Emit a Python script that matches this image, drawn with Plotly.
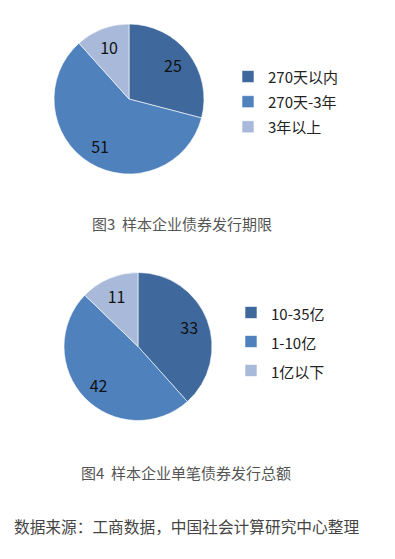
import plotly.graph_objects as go

# Figure 3: term of bonds
cats1 = ["270天以内", "270天-3年", "3年以上"]
vals1 = [25, 51, 10]
title1 = "图3  样本企业债券发行期限"

# Figure 4: single bond issue size
cats2 = ["10-35亿", "1-10亿", "1亿以下"]
vals2 = [33, 42, 11]
title2 = "图4  样本企业单笔债券发行总额"

source = "数据来源：工商数据，中国社会计算研究中心整理"

colors = ["#3F699D", "#4F81BD", "#A8B9D9"]
FONT = "Noto Sans CJK SC, Noto Sans, sans-serif"


def lab(c):
    return f"<span style='font-size:15px'>{c}</span>"


def add_pie(fig, cats, vals, dom, legend):
    # coloured pie with the legend
    fig.add_trace(go.Pie(
        labels=[lab(c) for c in cats], values=vals, sort=False, direction="clockwise",
        rotation=0, marker=dict(colors=colors, line=dict(color="white", width=0.6)),
        textinfo="none", domain=dom, legend=legend, hoverinfo="label+value",
    ))
    # transparent ring overlay that carries the value labels
    fig.add_trace(go.Pie(
        labels=[lab(c) for c in cats], values=vals, sort=False, direction="clockwise",
        rotation=0, hole=0.48,
        marker=dict(colors=["rgba(0,0,0,0)"] * len(vals), line=dict(width=0)),
        textinfo="value", textposition="inside", insidetextorientation="horizontal",
        textfont=dict(size=16, color="#111111", family=FONT),
        domain=dom, showlegend=False, hoverinfo="skip",
    ))


fig = go.Figure()
add_pie(fig, cats1, vals1, dict(x=[54/395, 204/395], y=[1-174/559, 1-24/559]), "legend")
add_pie(fig, cats2, vals2, dict(x=[64/395, 212/395], y=[1-421/559, 1-272/559]), "legend2")

fig.update_layout(
    width=395, height=559,
    margin=dict(l=0, r=0, t=0, b=0),
    paper_bgcolor="white", plot_bgcolor="white",
    font=dict(family=FONT, color="#222222"),
    legend=dict(x=228/395, y=1-59/559, xanchor="left", yanchor="top",
                font=dict(size=17, color="#222222", family=FONT),
                itemwidth=30, bgcolor="rgba(0,0,0,0)", traceorder="normal"),
    legend2=dict(x=231/395, y=1-293/559, xanchor="left", yanchor="top",
                 font=dict(size=20, color="#222222", family=FONT),
                 itemwidth=30, bgcolor="rgba(0,0,0,0)", traceorder="normal"),
    annotations=[
        dict(text=title1, x=181.5/395, y=1-224/559, xref="paper", yref="paper",
             xanchor="center", yanchor="middle",
             showarrow=False, font=dict(size=15, color="#555555", family=FONT)),
        dict(text=title2, x=185.5/395, y=1-472/559, xref="paper", yref="paper",
             xanchor="center", yanchor="middle",
             showarrow=False, font=dict(size=15, color="#555555", family=FONT)),
        dict(text=source, x=186/395, y=1-526/559, xref="paper", yref="paper",
             xanchor="center", yanchor="middle",
             showarrow=False, font=dict(size=15.7, color="#444444", family=FONT)),
    ],
)

fig.write_html("out.html", config={"displayModeBar": False},
               post_script="document.body.style.margin='0';document.body.style.overflow='hidden';")
